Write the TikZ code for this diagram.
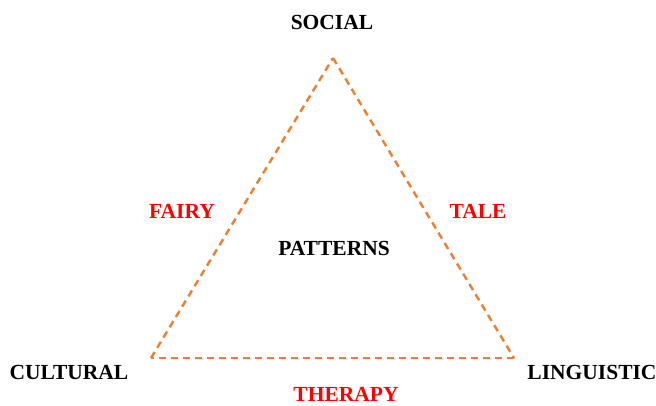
\documentclass[tikz,border=0pt]{standalone}
\usepackage{fontspec}
\setmainfont{Liberation Serif}
\definecolor{edgeorange}{RGB}{237,125,49}
\begin{document}
\begin{tikzpicture}[x=1pt,y=-1pt,
  lbl/.style={font=\fontsize{21.5}{25}\selectfont\bfseries,inner sep=0pt,text=black},
  redlbl/.style={lbl,text=red},
  side/.style={draw=edgeorange,line width=2.4pt,dash pattern=on 7pt off 5pt}]
\useasboundingbox (0,0) rectangle (656,406);
\coordinate (top) at (333,58);
\coordinate (bl) at (151,358);
\coordinate (br) at (514,358);
\draw[side] (top) -- (br);
\draw[side] (br) -- (bl);
\draw[side] (bl) -- (top);
\node[lbl] (social) at (332,22) {SOCIAL};
\node[lbl] (cultural) at (69,372) {CULTURAL};
\node[lbl] (linguistic) at (592,372) {LINGUISTIC};
\node[lbl] (patterns) at (334,248) {PATTERNS};
\node[redlbl] (fairy) at (182,211) {FAIRY};
\node[redlbl] (tale) at (478,211) {TALE};
\node[redlbl] (therapy) at (346,394) {THERAPY};
\end{tikzpicture}
\end{document}
